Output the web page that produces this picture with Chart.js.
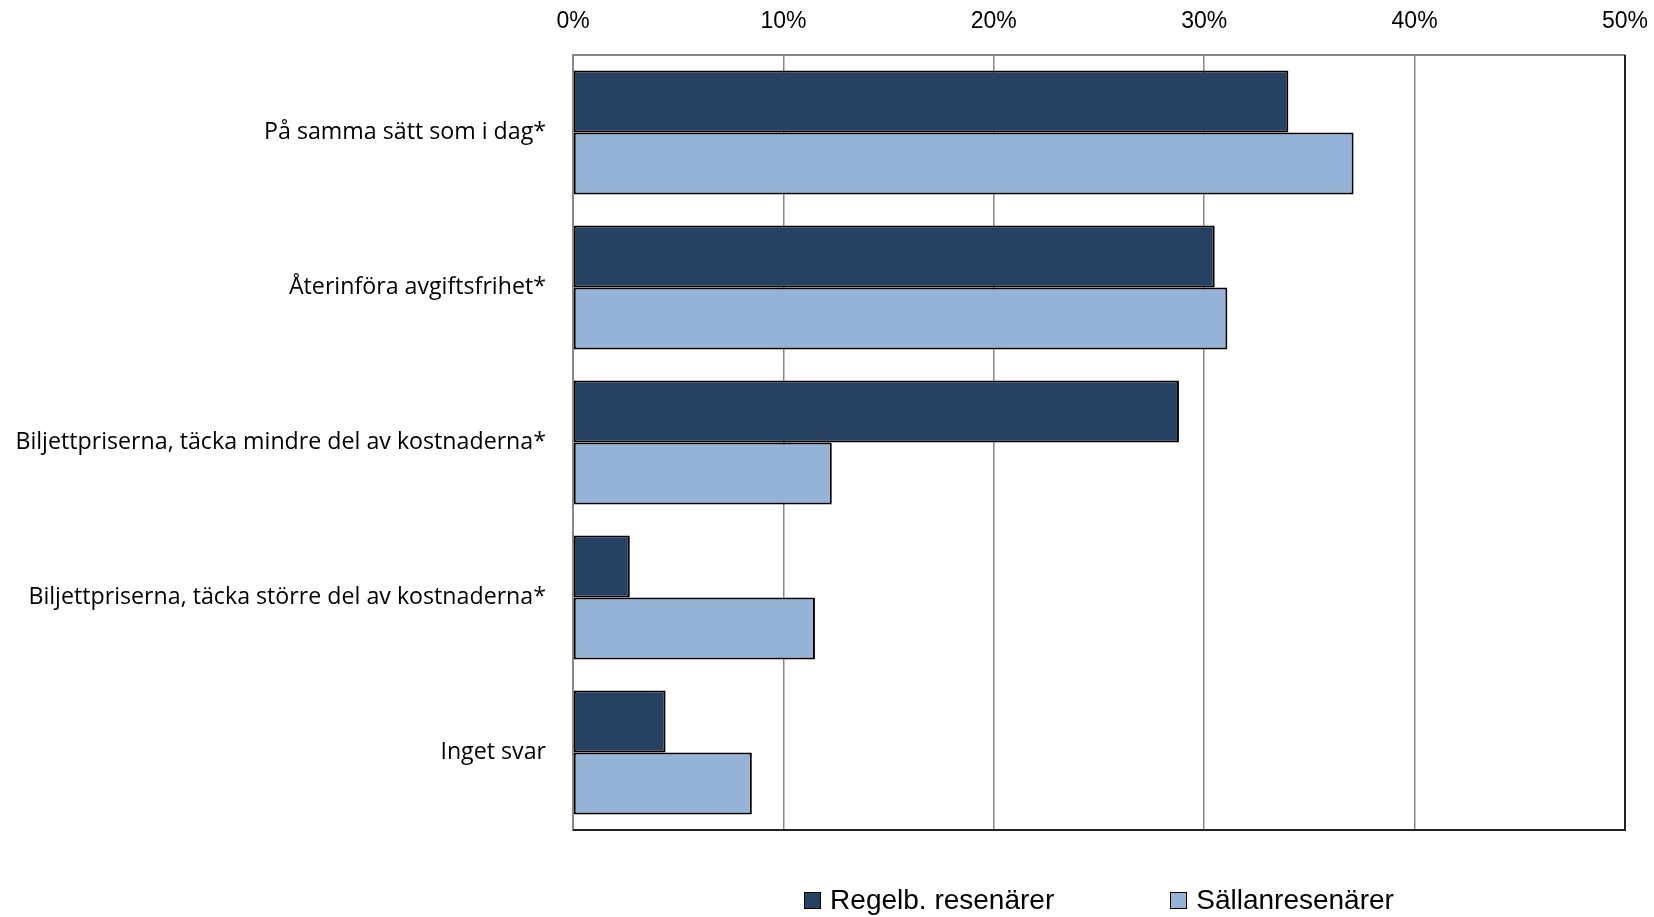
<!DOCTYPE html>
<html>
<head>
<meta charset="utf-8">
<script src="https://cdn.jsdelivr.net/npm/chart.js@4"></script>
<style>
    body { margin: 0; background: #fff; }
    #wrap { position: relative; width: 1654px; height: 917px; }
    #legend {
        position: absolute; left: 573px; width: 1052px; top: 884px;
        display: flex; justify-content: center; gap: 116px;
        font-family: "Liberation Sans", sans-serif; font-size: 28px; color: #000;
    }
    .item { display: flex; align-items: center; gap: 9px; }
    .box { width: 15px; height: 15px; border: 1px solid #000; }
</style>
</head>
<body>
<div id="wrap">
    <canvas id="chart" width="1654" height="917"></canvas>
    <div id="legend"></div>
</div>
<script>
// Data
const categories = [
    "På samma sätt som i dag*",
    "Återinföra avgiftsfrihet*",
    "Biljettpriserna, täcka mindre del av kostnaderna*",
    "Biljettpriserna, täcka större del av kostnaderna*",
    "Inget svar"
];
const regelb = [34.0, 30.5, 28.8, 2.7, 4.4];
const sallan = [37.1, 31.1, 12.3, 11.5, 8.5];
const seriesNames = ["Regelb. resenärer", "Sällanresenärer"];
const seriesColors = ["#264163", "#95b3d7"];
const xTicks = [0, 10, 20, 30, 40, 50];

// Dark right and bottom frame lines
const framePlugin = {
    id: "frame",
    afterDraw(chart) {
        const a = chart.chartArea;
        const ctx = chart.ctx;
        ctx.save();
        ctx.strokeStyle = "#222";
        ctx.lineWidth = 2;
        ctx.beginPath();
        ctx.moveTo(a.right, a.top);
        ctx.lineTo(a.right, a.bottom);
        ctx.lineTo(a.left, a.bottom);
        ctx.stroke();
        ctx.restore();
    }
};

const ctx = document.getElementById("chart").getContext("2d");

const chart = new Chart(ctx, {
    type: "bar",
    data: {
        labels: categories,
        datasets: [{
            label: seriesNames[0],
            data: regelb,
            backgroundColor: seriesColors[0],
            borderColor: "#000",
            borderWidth: 2,
            borderSkipped: false
        }, {
            label: seriesNames[1],
            data: sallan,
            backgroundColor: seriesColors[1],
            borderColor: "#000",
            borderWidth: 2,
            borderSkipped: false
        }]
    },
    options: {
        indexAxis: "y",
        responsive: false,
        animation: false,
        events: [],
        layout: { padding: { top: 0, right: 0, bottom: 87, left: 0 } },
        datasets: { bar: { categoryPercentage: 0.8, barPercentage: 1.0 } },
        plugins: { legend: { display: false }, tooltip: { enabled: false } },
        scales: {
            x: {
                position: "top",
                min: 0,
                max: 50,
                afterBuildTicks(scale) {
                    scale.ticks = xTicks.map(v => ({ value: v }));
                },
                afterFit(scale) {
                    scale.height = 55;
                    scale.paddingRight = 29;
                    scale.paddingLeft = 0;
                },
                grid: { color: "#888", lineWidth: 1.5, drawTicks: false },
                border: { color: "#888", width: 2 },
                ticks: {
                    padding: 20,
                    color: "#000",
                    font: { family: "'Liberation Sans', sans-serif", size: 23 },
                    callback: v => v + "%"
                }
            },
            y: {
                afterFit(scale) { scale.width = 573; },
                grid: { display: false, drawTicks: false },
                border: { color: "#888", width: 2 },
                ticks: {
                    padding: 27,
                    color: "#000",
                    font: { family: "'Open Sans', sans-serif", size: 23.2 }
                }
            }
        }
    },
    plugins: [framePlugin]
});

// Legend built from the series
const legend = document.getElementById("legend");
seriesNames.forEach((name, i) => {
    const item = document.createElement("div");
    item.className = "item";
    const box = document.createElement("div");
    box.className = "box";
    box.style.background = seriesColors[i];
    const txt = document.createElement("span");
    txt.textContent = name;
    item.appendChild(box);
    item.appendChild(txt);
    legend.appendChild(item);
});
</script>
</body>
</html>
